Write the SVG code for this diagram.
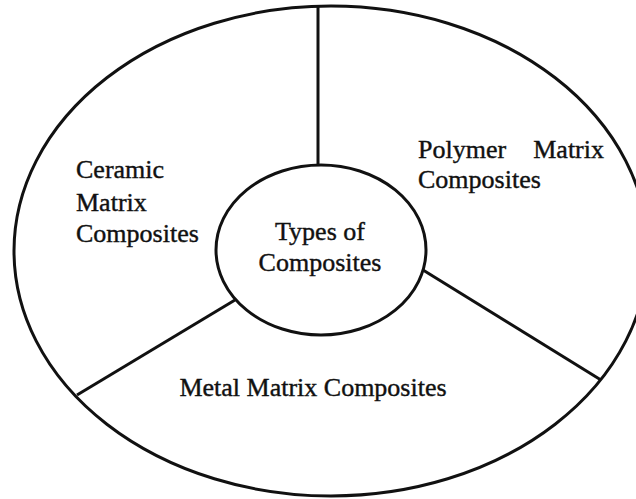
<svg xmlns="http://www.w3.org/2000/svg" width="636" height="499" viewBox="0 0 636 499">
  <style>
    .shape { fill: none; stroke: #111; stroke-width: 3; }
    .label { font-family: "Liberation Serif", "Times New Roman", serif; font-size: 26px; fill: #111; stroke: #111; stroke-width: 0.4; }
  </style>
  <rect width="636" height="499" fill="#fff"/>

  <!-- outer ring -->
  <g id="outer">
    <ellipse class="shape" cx="331" cy="251" rx="317" ry="245"/>
  </g>

  <!-- dividers between the three sectors -->
  <g id="connectors">
    <line class="shape" x1="318" y1="6" x2="318" y2="166"/>
    <line class="shape" x1="77" y1="395" x2="235" y2="300"/>
    <line class="shape" x1="601" y1="380" x2="423" y2="270"/>
  </g>

  <g id="center">
    <ellipse class="shape" cx="321" cy="250" rx="105" ry="85"/>
    <text class="label" x="320" y="240" text-anchor="middle">Types of</text>
    <text class="label" x="320" y="271" text-anchor="middle">Composites</text>
  </g>

  <g id="ceramic">
    <text class="label" x="76" y="178">Ceramic</text>
    <text class="label" x="76" y="211">Matrix</text>
    <text class="label" x="76" y="242">Composites</text>
  </g>

  <g id="polymer">
    <text class="label" x="418" y="158">Polymer</text>
    <text class="label" x="604" y="158" text-anchor="end">Matrix</text>
    <text class="label" x="418" y="188">Composites</text>
  </g>

  <g id="metal">
    <text class="label" x="313" y="396" text-anchor="middle">Metal Matrix Composites</text>
  </g>
</svg>
